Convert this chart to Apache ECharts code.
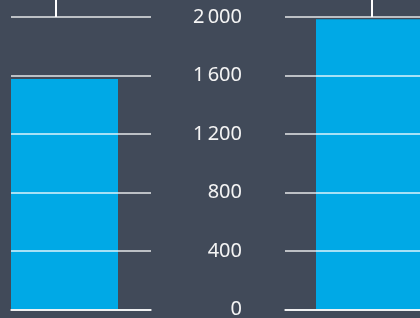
<html>
<head>
    <title>bars</title>
    <script src="https://cdn.jsdelivr.net/npm/echarts@6/dist/echarts.min.js"></script>
    <style>
        html, body { margin: 0; padding: 0; background: #414a59; }
    </style>
</head>
<body>
    <div id="main" style="width: 420px; height: 318px;"></div>
    <script>
        var categories = ['A', 'B'];
        var values = [1575, 1985];
        var yTicks = [0, 400, 800, 1200, 1600, 2000];

        var chart = echarts.init(document.getElementById('main'));

        function fmt(v) {
            return String(v).replace(/\B(?=(\d{3})+(?!\d))/g, '\u2009');
        }

        var gTop = 17, gBottom = 8.7;
        var gridLine = { show: true, lineStyle: { color: 'rgba(255,255,255,0.65)', width: 2 } };

        function valueY(grid, withLines, withLabels) {
            return {
                type: 'value', gridIndex: grid, min: yTicks[0], max: yTicks[yTicks.length - 1],
                interval: yTicks[1] - yTicks[0], z: 3,
                axisLine: { show: false }, axisTick: { show: false },
                splitLine: withLines ? gridLine : { show: false },
                axisLabel: withLabels ? {
                    show: true, margin: 43, color: '#f4f4f4', fontSize: 20,
                    fontFamily: 'Noto Sans', formatter: fmt, padding: [10, 0, 0, 0]
                } : { show: false }
            };
        }

        function lineX(grid) {
            return {
                type: 'value', gridIndex: grid, position: 'bottom', min: 0, max: 100, z: 4,
                axisLine: { show: true, lineStyle: { color: '#ffffff', width: 1.5 } },
                axisTick: { show: false }, axisLabel: { show: false }, splitLine: { show: false }
            };
        }

        function tickX(grid, at) {
            return {
                type: 'value', gridIndex: grid, position: 'top', min: 0, max: 100,
                axisLine: { show: false }, axisLabel: { show: false }, splitLine: { show: false },
                axisTick: { show: true, customValues: [at], length: 17, lineStyle: { color: '#ffffff', width: 2 } }
            };
        }

        function catX(grid, cat) {
            return {
                type: 'category', gridIndex: grid, data: [cat], show: false,
                axisLine: { show: false }, axisTick: { show: false }, axisLabel: { show: false }
            };
        }

        function grid(left, width, right) {
            var g = { left: left, top: gTop, bottom: gBottom, outerBoundsMode: 'none', containLabel: false };
            if (width != null) g.width = width; else g.right = right;
            return g;
        }

        var option = {
            backgroundColor: '#414a59',
            animation: false,
            grid: [
                grid(11, 140),
                grid(11, 107),
                grid(285, null, -20),
                grid(316, null, -20)
            ],
            xAxis: [
                lineX(0), tickX(0, 32.1),
                catX(1, categories[0]),
                lineX(2), tickX(2, 56.1),
                catX(3, categories[1])
            ],
            yAxis: [
                valueY(0, true, false),
                valueY(1, false, false),
                valueY(2, true, true),
                valueY(3, false, false)
            ],
            series: [
                {
                    type: 'bar', xAxisIndex: 2, yAxisIndex: 1, barWidth: '100%',
                    itemStyle: { color: '#00a9e6' }, data: [values[0]]
                },
                {
                    type: 'bar', xAxisIndex: 5, yAxisIndex: 3, barWidth: '100%',
                    itemStyle: { color: '#00a9e6' }, data: [values[1]]
                }
            ]
        };
        chart.setOption(option);
    </script>
</body>
</html>
